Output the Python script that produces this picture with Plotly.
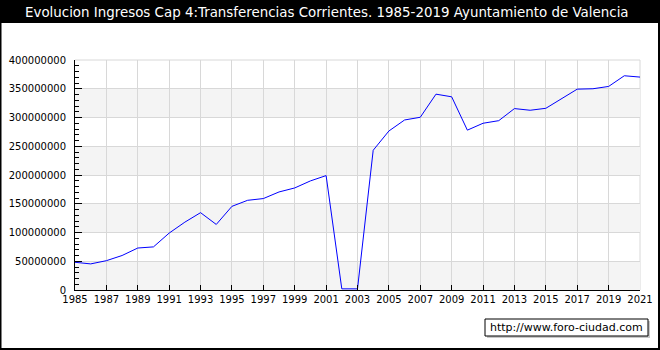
import plotly.graph_objects as go

years = list(range(1985, 2022))
values = [48.2e6, 45.4e6, 51e6, 60e6, 73e6, 75e6, 99e6, 118e6, 134.5e6, 114e6,
          145.5e6, 156e6, 159e6, 170.5e6, 177.5e6, 189.7e6, 199e6, 2e6, 2e6, 243e6,
          276.5e6, 295.7e6, 300.4e6, 340.6e6, 336e6, 278e6, 290e6, 294.5e6, 315.5e6, 312.6e6,
          316e6, 332.4e6, 349.3e6, 350e6, 354e6, 372.6e6, 370.3e6]
title_text = "Evolucion Ingresos Cap 4:Transferencias Corrientes. 1985-2019 Ayuntamiento de Valencia"
credit_text = "http://www.foro-ciudad.com"
band_ranges = [(0, 50e6), (100e6, 150e6), (200e6, 250e6), (300e6, 350e6)]

W, H = 660, 350
L, R, T, B = 75, 640, 60, 290
PW, PH = R - L, B - T

def px(x):
    return (x - L) / PW

def py(y):
    return (B - y) / PH

fig = go.Figure()
fig.add_trace(go.Scatter(x=years, y=values, mode="lines",
                         line=dict(color="#0000ff", width=1), hoverinfo="skip"))

shapes = []
for lo, hi in band_ranges:
    shapes.append(dict(type="rect", xref="x", yref="y", x0=1985, x1=2021, y0=lo, y1=hi,
                       fillcolor="#f4f4f4", line=dict(width=0), layer="below"))
shapes.append(dict(type="line", xref="paper", yref="paper", x0=0, x1=1, y0=1, y1=1,
                   line=dict(color="#d8d8d8", width=1), layer="below"))
shapes.append(dict(type="line", xref="paper", yref="paper", x0=1, x1=1, y0=0, y1=1,
                   line=dict(color="#d8d8d8", width=1), layer="below"))
# title bar
shapes.append(dict(type="rect", xref="paper", yref="paper", x0=px(0), x1=px(W), y0=py(23), y1=py(0),
                   fillcolor="black", line=dict(width=0), layer="below"))
# outer border
shapes.append(dict(type="rect", xref="paper", yref="paper", x0=px(0.5), x1=px(659), y0=py(349), y1=py(0),
                   fillcolor="rgba(0,0,0,0)", line=dict(color="black", width=2), layer="above"))
# credit box shadow and box
shapes.append(dict(type="rect", xref="paper", yref="paper", x0=px(487), x1=px(650), y0=py(338), y1=py(321),
                   fillcolor="#c8c8c8", line=dict(width=0), layer="above"))
shapes.append(dict(type="rect", xref="paper", yref="paper", x0=px(485), x1=px(648), y0=py(336), y1=py(319),
                   fillcolor="white", line=dict(color="black", width=1), layer="above"))

annotations = [
    dict(text=title_text, xref="paper", yref="paper", x=px(327), y=py(12), showarrow=False,
         xanchor="center", yanchor="middle", font=dict(family="DejaVu Sans", size=13.4, color="white")),
    dict(text=credit_text, xref="paper", yref="paper", x=px(566.5), y=py(327.5), showarrow=False,
         xanchor="center", yanchor="middle", font=dict(family="DejaVu Sans", size=11, color="black")),
]

fig.update_layout(
    width=W, height=H, autosize=False,
    margin=dict(l=L, r=W - R, t=T, b=H - B, pad=0, autoexpand=False),
    paper_bgcolor="white", plot_bgcolor="white",
    showlegend=False,
    shapes=shapes, annotations=annotations,
    font=dict(family="DejaVu Sans", size=10, color="black"),
    xaxis=dict(range=[1985, 2021], dtick=2, tick0=1985, showgrid=True, gridcolor="#d8d8d8", gridwidth=1,
               ticks="inside", ticklen=5, tickcolor="black", showline=True, linecolor="black", linewidth=1,
               zeroline=False, tickfont=dict(family="DejaVu Sans", size=10, color="black"),
               fixedrange=True, automargin=False),
    yaxis=dict(range=[0, 400e6], dtick=50e6, showgrid=True, gridcolor="#d8d8d8", gridwidth=1,
               ticks="inside", ticklen=7, tickcolor="black", showline=True, linecolor="black", linewidth=1,
               zeroline=False, tickformat="d", ticklabelstandoff=6,
               tickfont=dict(family="DejaVu Sans", size=10, color="black"),
               minor=dict(dtick=10e6, ticks="inside", ticklen=4, tickcolor="black", showgrid=False),
               fixedrange=True, automargin=False),
)

fig.write_html("out.html", config={"displayModeBar": False, "responsive": False},
               post_script="document.body.style.margin='0';document.body.style.overflow='hidden';")
